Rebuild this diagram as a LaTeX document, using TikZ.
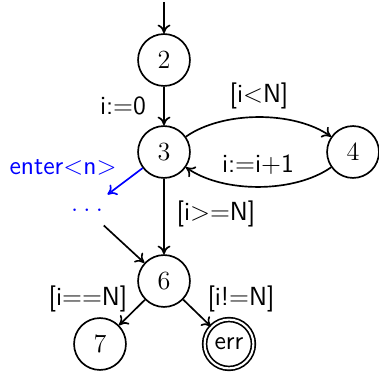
\documentclass[tikz,border=0pt]{standalone}
\usepackage{fontspec}
\usetikzlibrary{arrows.meta}
\begin{document}
\begin{tikzpicture}[x=0.42pt,y=0.42pt,
  >={To[length=3.6pt,width=5.4pt]},
  state/.style={circle,draw,line width=0.7pt,minimum size=21.8pt,inner sep=0pt,font=\fontsize{11}{13}\selectfont\rmfamily},
  accept/.style={state,minimum size=20.5pt,double,double distance=0.9pt,font=\fontsize{11}{13}\selectfont\sffamily},
  lbl/.style={font=\fontsize{11}{13}\selectfont\sffamily,inner sep=0pt},
  arr/.style={->,line width=0.7pt},
]
\useasboundingbox (0,0) rectangle (379,373);
\node[state] (n2) at (164,313) {2};
\node[state] (n3) at (164,221) {3};
\node[state] (n4) at (353,221) {4};
\node[state] (n6) at (164,92) {6};
\node[state] (n7) at (100,29) {7};
\node[accept] (err) at (229,29) {err};
\coordinate (start) at (164,371);
\node[text=blue,minimum width=19.3pt,minimum height=12.6pt,inner sep=0pt,font=\fontsize{11}{13}\selectfont\rmfamily] (dots) at (87,163) {.\kern2.2pt.\kern2.2pt.};

\node[lbl] (l0) at (123,267) {i:=0};
\node[lbl] (l1) at (259,277) {[i<N]};
\node[lbl] (l2) at (258,208) {i:=i+1};
\node[lbl] (l3) at (216,159) {[i>=N]};
\node[lbl] (l4) at (88,74) {[i==N]};
\node[lbl] (l5) at (241,74) {[i!=N]};
\node[lbl,text=blue] (l6) at (63,206) {enter<n>};

\draw[arr] (start) -- (n2);
\draw[arr] (n2) -- (n3);
\draw[arr] (n3) to[out=35,in=145,looseness=0.8] (n4);
\draw[arr] (n4) to[out=-145,in=-35,looseness=0.8] (n3);
\draw[arr] (n3) -- (n6);
\draw[arr,blue] (n3) -- (dots);
\draw[arr] (dots) -- (n6);
\draw[arr] (n6) -- (n7);
\draw[arr] (n6) -- (err);
\end{tikzpicture}
\end{document}
